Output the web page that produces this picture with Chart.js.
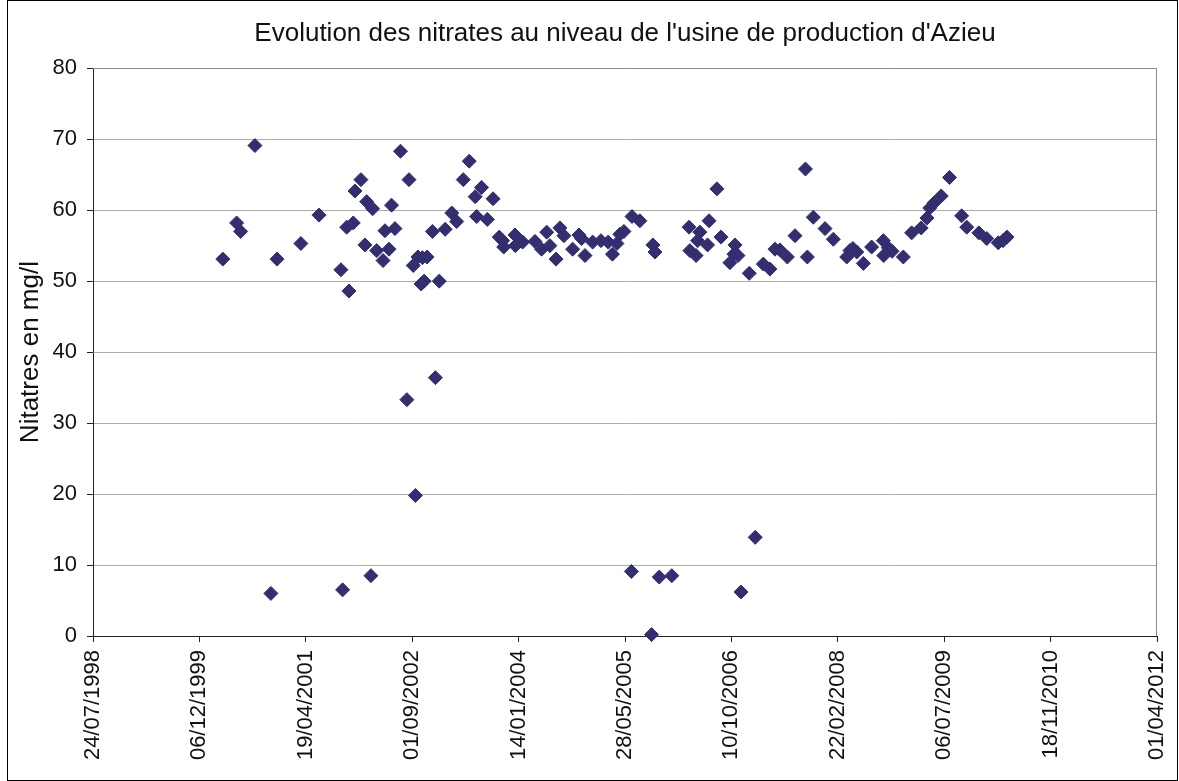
<!DOCTYPE html>
<html>
<head>
<meta charset="utf-8">
<title>Evolution des nitrates - Azieu</title>
<script src="https://cdn.jsdelivr.net/npm/chart.js@4.4.1/dist/chart.umd.min.js"></script>
<style>
  body { margin: 0; background: #fff; }
  #wrap { width: 1179px; height: 781px; }
</style>
</head>
<body>
<div id="wrap"><canvas id="nitrates" width="1179" height="781"></canvas></div>
<script>
// sample dates, as Excel serial numbers (days since 30/12/1899)
var dates = [
  36610, 36675, 36694, 36761, 36836, 36865, 36977, 37062, 37165, 37173,
  37192, 37203, 37223, 37231, 37259, 37278, 37286, 37306, 37314, 37333,
  37363, 37372, 37391, 37403, 37419, 37445, 37475, 37485, 37505, 37515,
  37527, 37542, 37548, 37556, 37570, 37595, 37609, 37627, 37655, 37686,
  37709, 37740, 37768, 37796, 37803, 37826, 37853, 37880, 37909, 37925,
  37930, 37983, 37985, 38019, 38077, 38108, 38132, 38147, 38176, 38194,
  38213, 38254, 38284, 38296, 38312, 38348, 38387, 38421, 38441, 38462,
  38476, 38495, 38530, 38533, 38570, 38625, 38631, 38641, 38661, 38720,
  38801, 38805, 38834, 38841, 38852, 38888, 38895, 38932, 38951, 38993,
  39012, 39017, 39031, 39045, 39084, 39112, 39150, 39181, 39205, 39228,
  39263, 39299, 39348, 39357, 39385, 39440, 39479, 39542, 39557, 39571,
  39589, 39620, 39659, 39714, 39716, 39737, 39755, 39808, 39847, 39892,
  39919, 39932, 39952, 39986, 40025, 40082, 40106, 40163, 40200, 40254,
  40276, 40295
];

// nitrates in mg/l, same order as dates
var nitrates = [
  53.1, 58.2, 57.0, 69.1, 6.0, 53.1, 55.3, 59.3, 51.6, 6.5,
  57.6, 48.6, 58.2, 62.7, 64.3, 55.1, 61.2, 8.5, 60.2, 54.3,
  52.9, 57.1, 54.5, 60.7, 57.4, 68.3, 33.3, 64.3, 52.2, 19.8,
  53.4, 49.6, 53.3, 50.0, 53.4, 57.0, 36.4, 50.0, 57.3, 59.6,
  58.4, 64.3, 66.9, 61.9, 59.1, 63.2, 58.7, 61.6, 56.2, 55.7,
  54.8, 56.5, 55.0, 55.5, 55.6, 54.5, 56.9, 55.0, 53.1, 57.5,
  56.4, 54.5, 56.5, 56.0, 53.6, 55.5, 55.7, 55.5, 53.8, 55.3,
  56.6, 57.0, 9.1, 59.1, 58.5, 0.2, 55.1, 54.1, 8.3, 8.5,
  57.6, 54.3, 53.6, 55.7, 56.9, 55.1, 58.5, 63.0, 56.2, 52.6,
  53.8, 55.1, 53.6, 6.2, 51.1, 13.9, 52.4, 51.7, 54.5, 54.4,
  53.4, 56.4, 65.8, 53.4, 59.0, 57.4, 55.9, 53.4, 54.3, 54.6,
  54.1, 52.5, 54.8, 55.7, 53.6, 54.7, 54.2, 53.4, 56.8, 57.5,
  58.9, 60.3, 61.0, 62.0, 64.6, 59.2, 57.6, 56.8, 56.0, 55.4,
  55.7, 56.2
];

// x axis: one tick every 500 days from serial 36000
var xMin = 36000;
var xStep = 500;
var xTickLabels = [
  '24/07/1998', '06/12/1999', '19/04/2001', '01/09/2002', '14/01/2004', '28/05/2005',
  '10/10/2006', '22/02/2008', '06/07/2009', '18/11/2010', '01/04/2012'
];

var font = "'Liberation Sans', Arial, sans-serif";

// gray top/right border of the plot + outer frame
var frames = {
  id: 'frames',
  beforeDatasetsDraw: function (chart) {
    var a = chart.chartArea;
    var ctx = chart.ctx;
    ctx.save();
    ctx.lineWidth = 1;
    ctx.strokeStyle = '#8a8a8a';
    ctx.beginPath();
    ctx.moveTo(a.left, Math.round(a.top) + 0.5);
    ctx.lineTo(Math.round(a.right) - 0.5, Math.round(a.top) + 0.5);
    ctx.lineTo(Math.round(a.right) - 0.5, a.bottom);
    ctx.stroke();
    ctx.strokeStyle = '#000';
    ctx.strokeRect(7.5, 0.5, chart.width - 9, chart.height - 1);
    ctx.restore();
  }
};

var points = dates.map(function (d, i) {
  return { x: d, y: nitrates[i] };
});

var ctx = document.getElementById('nitrates');
var chart = new Chart(ctx, {
  type: 'scatter',
  data: {
    datasets: [{
      label: 'Nitrates',
      data: points,
      pointStyle: 'rectRot',
      pointRadius: 7,
      pointHoverRadius: 7,
      backgroundColor: '#322e6f',
      borderColor: '#322e6f',
      borderWidth: 1,
      clip: false
    }]
  },
  options: {
    responsive: false,
    animation: false,
    layout: {
      padding: { left: 0, right: 22, top: 0, bottom: 0 }
    },
    plugins: {
      legend: { display: false },
      tooltip: { enabled: false },
      title: {
        display: true,
        fullSize: false,
        text: "Evolution des nitrates au niveau de l'usine de production d'Azieu",
        color: '#111',
        font: { family: font, size: 26, weight: 'normal' },
        padding: { top: 18, bottom: 19 }
      }
    },
    scales: {
      x: {
        type: 'linear',
        min: xMin,
        max: xMin + xStep * (xTickLabels.length - 1),
        afterFit: function (scale) {
          scale.height = 145;
          scale.paddingLeft = 0;
          scale.paddingRight = 0;
        },
        grid: {
          drawOnChartArea: false,
          tickLength: 6,
          tickColor: '#222'
        },
        border: { color: '#222', width: 1 },
        ticks: {
          stepSize: xStep,
          minRotation: 90,
          maxRotation: 90,
          padding: 8,
          color: '#111',
          font: { family: font, size: 22 },
          callback: function (value) {
            return xTickLabels[Math.round((value - xMin) / xStep)];
          }
        }
      },
      y: {
        min: 0,
        max: 80,
        afterFit: function (scale) {
          scale.width = 93;
          scale.paddingTop = 0;
          scale.paddingBottom = 0;
        },
        grid: {
          color: '#a9acb0',
          tickLength: 6,
          tickColor: '#222'
        },
        border: { color: '#222', width: 1 },
        ticks: {
          stepSize: 10,
          padding: 10,
          color: '#111',
          font: { family: font, size: 22 }
        },
        title: {
          display: true,
          text: 'Nitatres en mg/l',
          color: '#111',
          font: { family: font, size: 26 },
          padding: { top: 15, bottom: 0 }
        }
      }
    }
  },
  plugins: [frames]
});
</script>
</body>
</html>
